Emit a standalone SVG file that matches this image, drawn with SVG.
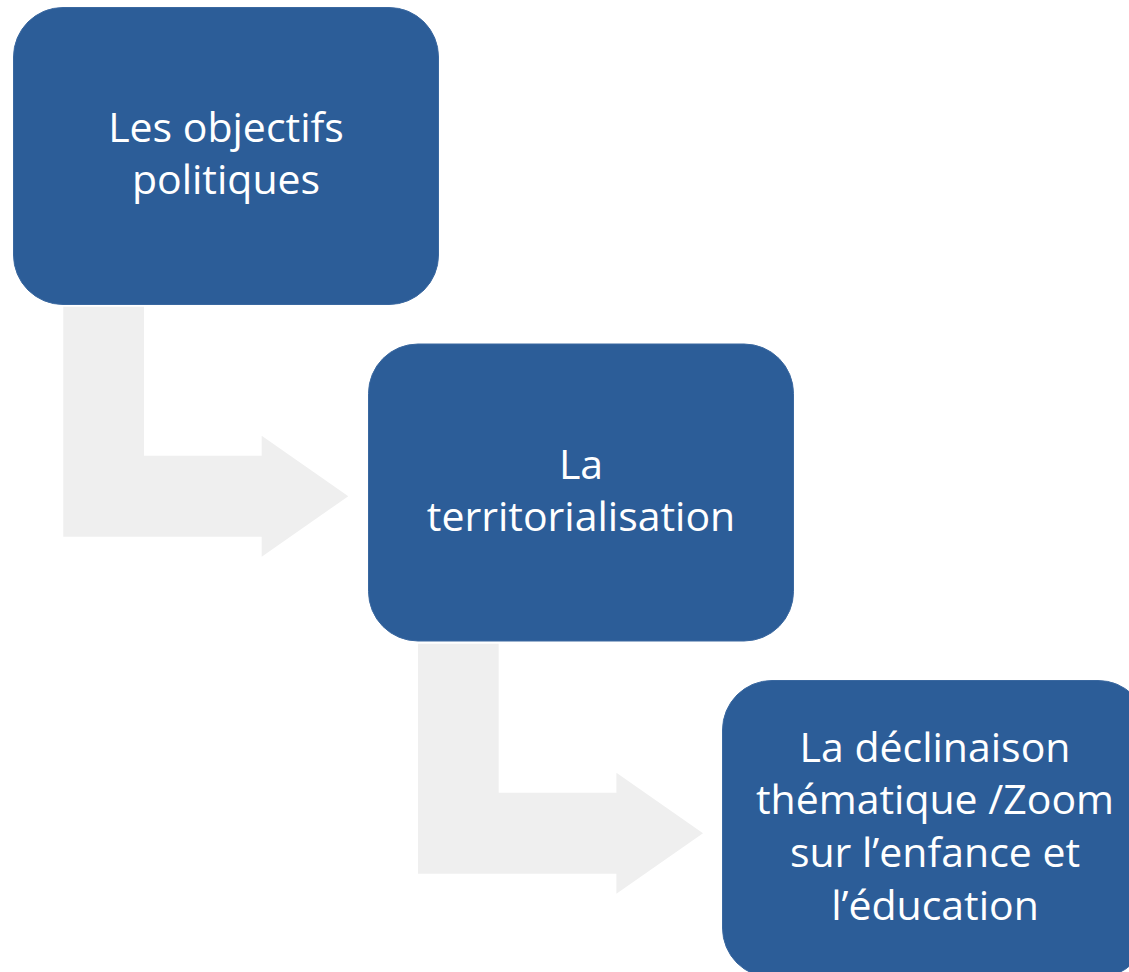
<svg xmlns="http://www.w3.org/2000/svg" width="1129" height="972" viewBox="0 0 1129 972">
  <style>
    .box { fill: #2C5D98; stroke: #3A68A0; stroke-width: 1; }
    .arrow { fill: #EFEFEF; stroke: none; }
    .label { font-family: "Open Sans", "Noto Sans", "DejaVu Sans", sans-serif; font-size: 41px; fill: #FFFFFF; text-anchor: middle; }
  </style>
  <rect width="1129" height="972" fill="#FFFFFF"/>
  <g id="connectors">
    <path class="arrow" d="M63.3,306.7 L144,306.7 L144,455.7 L261.7,455.7 L261.7,435.7 L348.3,496.2 L261.7,556.7 L261.7,536.7 L63.3,536.7 Z"/>
    <path class="arrow" d="M418,643.7 L498.7,643.7 L498.7,792.7 L616.4,792.7 L616.4,772.7 L703,833.2 L616.4,893.7 L616.4,873.7 L418,873.7 Z"/>
  </g>
  <g id="node1">
    <rect class="box" x="13.5" y="7.5" width="425" height="297" rx="49.5" ry="49.5"/>
    <text class="label" x="226" y="142">Les objectifs</text>
    <text class="label" x="226" y="194">politiques</text>
  </g>
  <g id="node2">
    <rect class="box" x="368.5" y="344" width="425" height="297" rx="49.5" ry="49.5"/>
    <text class="label" x="581" y="479">La</text>
    <text class="label" x="581" y="531">territorialisation</text>
  </g>
  <g id="node3">
    <rect class="box" x="722.5" y="680.5" width="425" height="297" rx="49.5" ry="49.5"/>
    <text class="label" x="935" y="762">La déclinaison</text>
    <text class="label" x="935" y="814">thématique /Zoom</text>
    <text class="label" x="935" y="867">sur l’enfance et</text>
    <text class="label" x="935" y="920">l’éducation</text>
  </g>
</svg>
